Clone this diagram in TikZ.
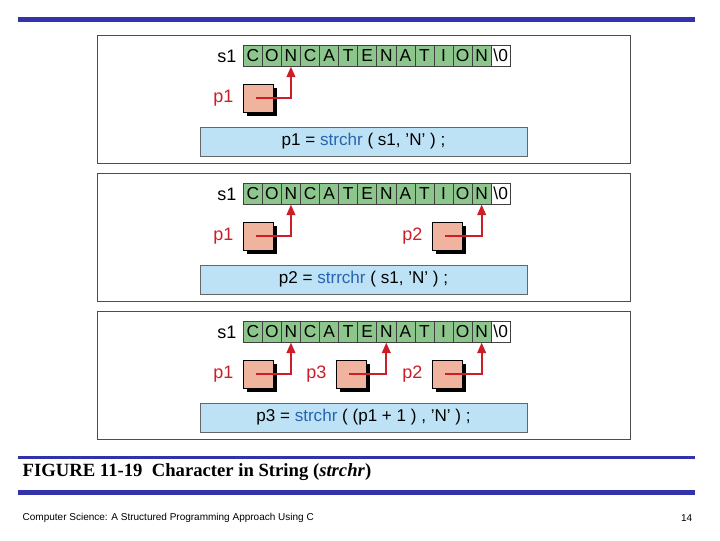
\documentclass[tikz,border=0pt]{standalone}
\usepackage{fontspec}
\usetikzlibrary{arrows.meta}
\setmainfont{Liberation Sans}
\newfontfamily\capfont{Liberation Serif}
\definecolor{cgreen}{RGB}{140,198,140}
\definecolor{cblue}{RGB}{190,226,245}
\definecolor{csalmon}{RGB}{240,180,158}
\definecolor{cred}{RGB}{205,30,40}
\definecolor{ctext}{RGB}{40,100,175}
\definecolor{cbar}{RGB}{50,50,170}
\begin{document}
\begin{tikzpicture}[x=0.75pt,y=-0.75pt,
  frame/.style={draw=black!70,line width=0.8pt,fill=white},
  cell/.style={draw=black!75,fill=cgreen,minimum width=19.07*0.75pt,minimum height=21*0.75pt,inner sep=0pt,anchor=north west,font=\fontsize{13}{13}\selectfont},
  ptr/.style={draw=black,fill=csalmon,minimum width=30*0.75pt,minimum height=28*0.75pt,inner sep=0pt},
  code/.style={draw=black!60,fill=cblue,minimum width=327*0.75pt,minimum height=29*0.75pt,inner sep=0pt,font=\fontsize{12.8}{13}\selectfont},
  lab/.style={font=\fontsize{13.5}{14}\selectfont},
  plab/.style={font=\fontsize{13.5}{14}\selectfont,text=cred},
  parrow/.style={draw=cred,line width=1.6pt,-{Triangle[length=8pt,width=6.5pt]}}]
\useasboundingbox (0,0) rectangle (720,540);
\fill[cbar] (18,17) rectangle (695,22);
\newcommand{\mypanel}[2]{%
  \begin{scope}[yshift=-#1*0.75pt]
  \node[frame,minimum width=533*0.75pt,minimum height=128*0.75pt,anchor=north west,inner sep=0pt] (fr#2) at (97,35) {};
  \node[lab] (s#2) at (227,56) {s1};
  \foreach \ch [count=\i from 0] in {C,O,N,C,A,T,E,N,A,T,I,O,N} {
    \node[cell] (c#2-\i) at (243+\i*19.07,45) {\ch};
  }
  \node[cell,fill=white] (c#2-13) at (243+13*19.07,45) {\textbackslash0};
  \end{scope}}
\newcommand{\myptr}[5]{%
  \begin{scope}[yshift=-#1*0.75pt]
  \fill[black] (#4+4,88) rectangle (#4+34,116);
  \node[ptr,anchor=north west] (b#2) at (#4,84) {};
  \node[plab,anchor=east] (l#2) at (#4-5,98) {#3};
  \end{scope}
  \draw[parrow] ([xshift=-1.5pt]b#2.center) -| (#5.south);}
\mypanel{0}{a}
\myptr{0}{a1}{p1}{243}{ca-2}
\node[code] (k1) at (363.5,141.5) {p1 = \textcolor{ctext}{strchr} ( s1, 'N' ) ;};
\mypanel{138}{b}
\myptr{138}{b1}{p1}{243}{cb-2}
\myptr{138}{b2}{p2}{432}{cb-12}
\node[code] (k2) at (363.5,279.5) {p2 = \textcolor{ctext}{strrchr} ( s1, 'N' ) ;};
\mypanel{276}{c}
\myptr{276}{c1}{p1}{243}{cc-2}
\myptr{276}{c3}{p3}{336}{cc-7}
\myptr{276}{c2}{p2}{432}{cc-12}
\node[code] (k3) at (363.5,417.5) {p3 = \textcolor{ctext}{strchr} ( (p1 + 1 ) , 'N' ) ;};
\fill[cbar] (18,456) rectangle (695,459);
\node[anchor=west,font=\capfont\bfseries\fontsize{14}{14}\selectfont,text=black] (cap) at (18,472) {FIGURE 11-19\ \ Character in String (\textit{strchr})};
\fill[cbar] (18,490) rectangle (695,495);
\node[anchor=west,font=\fontsize{7.5}{8}\selectfont] (ft) at (18,518) {Computer Science: A Structured Programming Approach Using C};
\node[anchor=east,font=\fontsize{7.5}{8}\selectfont] (pg) at (697,518) {14};
\end{tikzpicture}
\end{document}
